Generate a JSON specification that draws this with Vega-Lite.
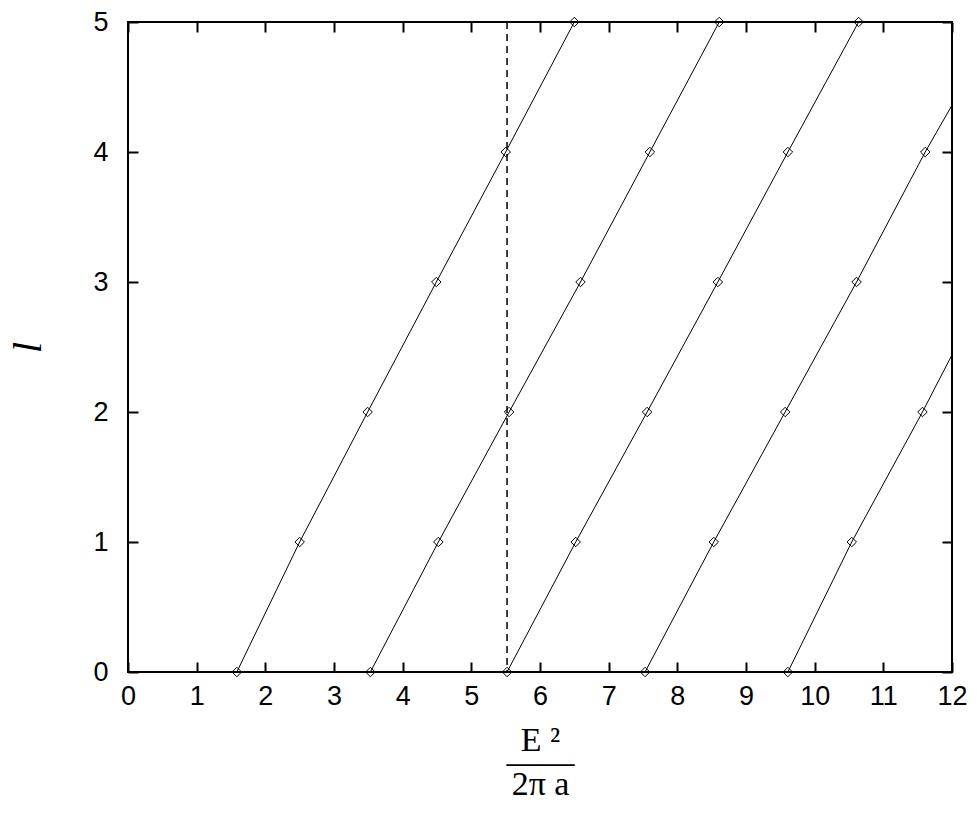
{
  "$schema": "https://vega.github.io/schema/vega-lite/v6.json",
  "width": 824,
  "height": 650,
  "autosize": "none",
  "padding": {"left": 128, "top": 22, "right": 25, "bottom": 142},
  "background": "white",
  "config": {
    "view": {"stroke": "black", "strokeWidth": 2},
    "axis": {
      "domain": false,
      "grid": false,
      "ticks": true,
      "tickColor": "black",
      "tickWidth": 2,
      "tickSize": -10,
      "labelFont": "Liberation Sans",
      "labelFontSize": 27,
      "labelColor": "black",
      "labelFlush": false,
      "labelOverlap": false,
      "titleColor": "black",
      "titleFontWeight": "normal"
    }
  },
  "data": {
    "values": [
      {"series": "a", "x": 1.585, "l": 0, "marker": true},
      {"series": "a", "x": 2.5, "l": 1, "marker": true},
      {"series": "a", "x": 3.49, "l": 2, "marker": true},
      {"series": "a", "x": 4.49, "l": 3, "marker": true},
      {"series": "a", "x": 5.5, "l": 4, "marker": true},
      {"series": "a", "x": 6.5, "l": 5, "marker": true},
      {"series": "b", "x": 3.53, "l": 0, "marker": true},
      {"series": "b", "x": 4.52, "l": 1, "marker": true},
      {"series": "b", "x": 5.55, "l": 2, "marker": true},
      {"series": "b", "x": 6.59, "l": 3, "marker": true},
      {"series": "b", "x": 7.6, "l": 4, "marker": true},
      {"series": "b", "x": 8.61, "l": 5, "marker": true},
      {"series": "c", "x": 5.52, "l": 0, "marker": true},
      {"series": "c", "x": 6.52, "l": 1, "marker": true},
      {"series": "c", "x": 7.56, "l": 2, "marker": true},
      {"series": "c", "x": 8.59, "l": 3, "marker": true},
      {"series": "c", "x": 9.61, "l": 4, "marker": true},
      {"series": "c", "x": 10.64, "l": 5, "marker": true},
      {"series": "d", "x": 7.53, "l": 0, "marker": true},
      {"series": "d", "x": 8.53, "l": 1, "marker": true},
      {"series": "d", "x": 9.57, "l": 2, "marker": true},
      {"series": "d", "x": 10.61, "l": 3, "marker": true},
      {"series": "d", "x": 11.61, "l": 4, "marker": true},
      {"series": "d", "x": 12, "l": 4.36, "marker": false},
      {"series": "e", "x": 9.61, "l": 0, "marker": true},
      {"series": "e", "x": 10.54, "l": 1, "marker": true},
      {"series": "e", "x": 11.57, "l": 2, "marker": true},
      {"series": "e", "x": 12, "l": 2.44, "marker": false}
    ]
  },
  "layer": [
    {
      "data": {"values": [{"xv": 5.52}]},
      "mark": {"type": "rule", "color": "black", "strokeWidth": 1.5, "strokeDash": [7, 5]},
      "encoding": {
        "x": {"field": "xv", "type": "quantitative", "axis": null}
      }
    },
    {
      "mark": {"type": "line", "color": "black", "strokeWidth": 1, "clip": true},
      "encoding": {
        "x": {
          "field": "x", "type": "quantitative",
          "scale": {"domain": [0, 12], "nice": false},
          "axis": {
            "orient": "bottom",
            "values": [0, 1, 2, 3, 4, 5, 6, 7, 8, 9, 10, 11, 12],
            "format": "d",
            "labelPadding": 21,
            "title": ["E ²", "——", "2π a"],
            "titleFont": "Liberation Serif",
            "titleFontSize": 34,
            "titleLineHeight": 22,
            "titlePadding": 14
          }
        },
        "y": {
          "field": "l", "type": "quantitative",
          "scale": {"domain": [0, 5], "nice": false},
          "axis": {
            "orient": "left",
            "values": [0, 1, 2, 3, 4, 5],
            "format": "d",
            "labelPadding": 30,
            "title": "l",
            "titleFont": "Liberation Serif",
            "titleFontStyle": "italic",
            "titleFontSize": 40,
            "titlePadding": 44
          }
        },
        "detail": {"field": "series"}
      }
    },
    {
      "transform": [{"filter": "datum.marker"}],
      "mark": {"type": "point", "shape": "diamond", "size": 90, "color": "black", "strokeWidth": 1, "filled": false, "opacity": 1},
      "encoding": {
        "x": {
          "field": "x", "type": "quantitative",
          "axis": {"orient": "top", "values": [0, 1, 2, 3, 4, 5, 6, 7, 8, 9, 10, 11, 12], "labels": false, "title": null}
        },
        "y": {
          "field": "l", "type": "quantitative",
          "axis": {"orient": "right", "values": [0, 1, 2, 3, 4, 5], "labels": false, "title": null}
        }
      }
    }
  ],
  "resolve": {"axis": {"x": "independent", "y": "independent"}}
}
